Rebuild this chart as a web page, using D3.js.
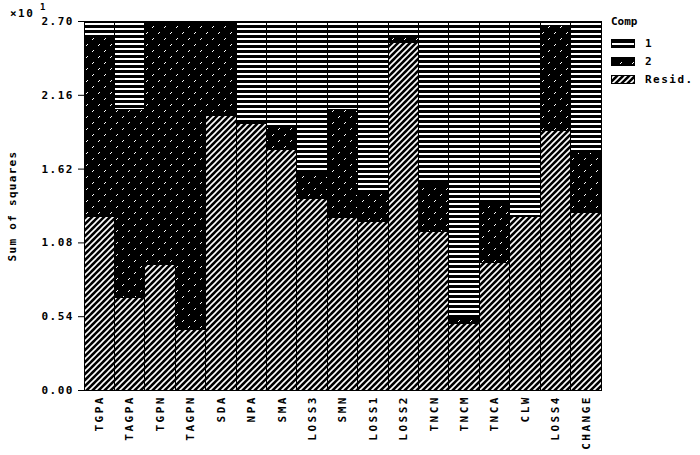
<!DOCTYPE html>
<html><head><meta charset="utf-8">
<script src="https://cdn.jsdelivr.net/npm/d3@7"></script>
<style>
body{margin:0;background:#fff;}
text{font-family:"DejaVu Sans Mono",monospace;font-weight:bold;font-size:11px;fill:#000;}
</style></head>
<body><svg id="c" width="700" height="455"></svg>
<script>
const categories = ["TGPA","TAGPA","TGPN","TAGPN","SDA","NPA","SMA","LOSS3","SMN","LOSS1","LOSS2","TNCN","TNCM","TNCA","CLW","LOSS4","CHANGE"];
const resid = [1.27,0.68,0.92,0.44,2.01,1.95,1.76,1.40,1.26,1.23,2.54,1.16,0.49,0.93,1.27,1.90,1.30];
const comp2 = [1.31,1.37,1.78,2.26,0.69,0.00,0.16,0.19,0.79,0.23,0.05,0.35,0.04,0.45,0.00,0.77,0.44];
const comp1 = [0.12,0.65,0.00,0.00,0.00,0.75,0.78,1.11,0.65,1.24,0.11,1.19,2.17,1.32,1.43,0.03,0.96];
const tickValues = [0,0.54,1.08,1.62,2.16,2.70];
const seriesNames = ["1","2","Resid."];

const svg = d3.select("#c");
const defs = svg.append("defs");
// comp1: horizontal lines
const p1 = defs.append("pattern").attr("id","p1").attr("patternUnits","userSpaceOnUse").attr("width",4).attr("height",5);
p1.append("rect").attr("width",4).attr("height",5).attr("fill","#fff");
p1.append("rect").attr("width",4).attr("height",3).attr("fill","#000");
// comp2: dense black with sparse white dots
const p2 = defs.append("pattern").attr("id","p2").attr("patternUnits","userSpaceOnUse").attr("width",12).attr("height",12);
p2.append("rect").attr("width",12).attr("height",12).attr("fill","#000");
[[2,9],[3,8],[8,3],[9,2]].forEach(d=>p2.append("rect").attr("x",d[0]).attr("y",d[1]).attr("width",1).attr("height",1).attr("fill","#fff"));
// resid: diagonal lines
const p3 = defs.append("pattern").attr("id","p3").attr("patternUnits","userSpaceOnUse").attr("width",6).attr("height",6);
p3.append("rect").attr("width",6).attr("height",6).attr("fill","#000");
p3.append("path").attr("d","M0,6 L6,0 M-1,1 L1,-1 M5,7 L7,5").attr("stroke","#fff").attr("stroke-width",1.6);

const mLeft = 84, mRight = 601, mTop = 21, mBottom = 390;
const x = d3.scaleBand().domain(categories).range([mLeft,mRight]).padding(0);
const y = d3.scaleLinear().domain([0,2.70]).range([mBottom,mTop]);

const rows = categories.map((c,i)=>({cat:c, r:resid[i], c2:comp2[i], c1:comp1[i]}));
const stack = d3.stack().keys(["r","c2","c1"])(rows);
const fills = {r:"url(#p3)", c2:"url(#p2)", c1:"url(#p1)"};

const g = svg.append("g").attr("shape-rendering","crispEdges");
stack.forEach(layer=>{
  g.selectAll(null).data(layer).enter().append("rect")
   .attr("x",d=>x(d.data.cat))
   .attr("width",x.bandwidth())
   .attr("y",d=>y(d[1]))
   .attr("height",d=>Math.max(0,y(d[0])-y(d[1])))
   .attr("fill",fills[layer.key])
   .attr("stroke","#000").attr("stroke-width",1);
});

// y axis
const ya = svg.append("g").attr("transform",`translate(${mLeft},0)`)
  .call(d3.axisLeft(y).tickValues(tickValues).tickFormat(d3.format(".2f")).tickSize(6).tickPadding(4));
ya.select(".domain").attr("stroke","#000").attr("stroke-width",1);
ya.selectAll("text").style("font-family","DejaVu Sans Mono").style("font-weight","bold").style("font-size","11px").attr("letter-spacing","1.5px");

// x axis labels
const xa = svg.append("g").attr("transform",`translate(0,${mBottom})`)
  .call(d3.axisBottom(x).tickSize(0).tickPadding(0));
xa.select(".domain").remove();
xa.selectAll("text")
  .style("font-family","DejaVu Sans Mono").style("font-weight","bold").style("font-size","11px")
  .attr("letter-spacing","2.5px")
  .attr("transform","rotate(-90)")
  .attr("text-anchor","end")
  .attr("x",-5).attr("y",0).attr("dy","0.35em");

// multiplier
svg.append("text").attr("x",10).attr("y",17).attr("letter-spacing","1.5px").text("×10");
svg.append("text").attr("x",40).attr("y",10).style("font-size","9px").text("1");

// y title
svg.append("text").attr("transform","translate(16,206) rotate(-90)").attr("text-anchor","middle")
  .attr("letter-spacing","1.3px").text("Sum of squares");

// legend
svg.append("text").attr("x",611).attr("y",25).text("Comp");
const lf = ["url(#p1)","url(#p2)","url(#p3)"];
const ly = [39,57,75];
seriesNames.forEach((n,i)=>{
  svg.append("rect").attr("x",611).attr("y",ly[i]).attr("width",23).attr("height",8)
    .attr("fill",lf[i]).attr("stroke","#000").attr("stroke-width",1).attr("shape-rendering","crispEdges");
  svg.append("text").attr("x",645).attr("y",ly[i]+8).attr("letter-spacing","1.5px").text(n);
});
</script></body></html>
